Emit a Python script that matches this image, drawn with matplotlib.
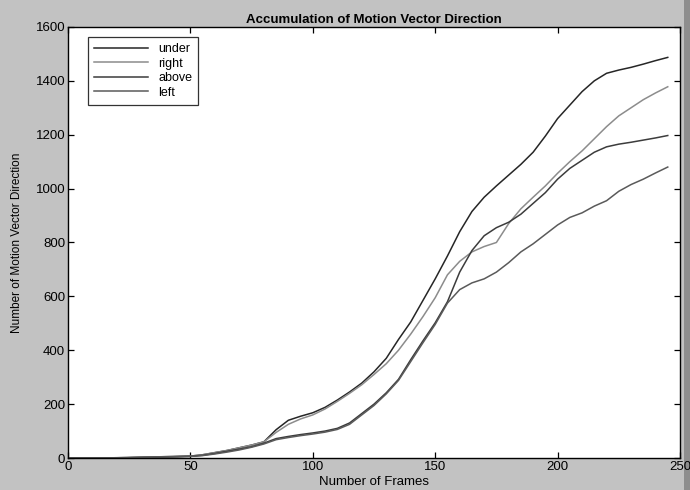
import matplotlib
matplotlib.use("Agg")
import matplotlib.pyplot as plt
from matplotlib.patches import Rectangle

frames = [0, 10, 20, 30, 40, 50, 55, 60, 65, 70, 75, 80, 85, 90, 95, 100, 105, 110,
          115, 120, 125, 130, 135, 140, 145, 150, 155, 160, 165, 170, 175, 180, 185,
          190, 195, 200, 205, 210, 215, 220, 225, 230, 235, 240, 245]

under = [0, 0, 1, 3, 5, 7, 12, 20, 28, 38, 48, 60, 105, 140, 155, 168, 188, 215,
         245, 278, 320, 370, 440, 505, 585, 665, 750, 840, 915, 968, 1010, 1050, 1090,
         1135, 1195, 1260, 1310, 1360, 1400, 1428, 1440, 1450, 1462, 1475, 1487]

right = [0, 0, 1, 3, 5, 7, 12, 20, 28, 38, 48, 60, 95, 125, 145, 160, 182, 210,
         240, 272, 310, 350, 400, 460, 525, 595, 680, 730, 765, 785, 800, 870, 925,
         968, 1010, 1057, 1100, 1140, 1185, 1230, 1270, 1300, 1330, 1355, 1378]

above = [0, 0, 0, 2, 4, 6, 10, 17, 25, 33, 42, 55, 72, 80, 87, 93, 100, 110,
         130, 165, 200, 242, 292, 365, 435, 502, 580, 690, 770, 825, 855, 875, 905,
         945, 985, 1035, 1075, 1105, 1135, 1155, 1165, 1172, 1180, 1188, 1197]

left = [0, 0, 0, 2, 4, 6, 9, 15, 22, 30, 40, 52, 68, 76, 83, 89, 96, 106,
        125, 160, 195, 238, 288, 358, 428, 496, 575, 625, 650, 665, 690, 725, 765,
        795, 830, 865, 893, 910, 935, 955, 990, 1015, 1035, 1058, 1080]

series = [("under", under, "#262626"), ("right", right, "#8c8c8c"),
          ("above", above, "#3c3c3c"), ("left", left, "#5a5a5a")]

x_ticks = [0, 50, 100, 150, 200, 250]
y_ticks = [0, 200, 400, 600, 800, 1000, 1200, 1400, 1600]

plt.rcParams['font.family'] = ['Liberation Sans', 'DejaVu Sans']

fig = plt.figure(figsize=(6.9, 4.9), dpi=100, facecolor="#c2c2c2")
fig.patches.append(Rectangle((0.991, 0), 0.009, 1, transform=fig.transFigure,
                             facecolor="#8e8e8e", edgecolor="none", zorder=-5))
ax = fig.add_axes([0.0986, 0.0653, 0.8869, 0.8797])
ax.set_facecolor("white")

for name, vals, col in series:
    ax.plot(frames, vals, color=col, lw=1.1, label=name)

ax.set_xlim(0, 250)
ax.set_ylim(0, 1600)
ax.set_xticks(x_ticks)
ax.set_yticks(y_ticks)
ax.tick_params(direction="in", top=True, right=True, labelsize=9.5, length=4,
               width=0.9, pad=2)
for sp in ax.spines.values():
    sp.set_linewidth(1.0)

ax.set_title("Accumulation of Motion Vector Direction", fontsize=9.5, fontweight="bold",
             pad=3)
ax.set_xlabel("Number of Frames", fontsize=9.5, labelpad=2.5)
ax.set_ylabel("Number of Motion Vector Direction", fontsize=8.5, labelpad=9)

leg = ax.legend(loc="upper left", bbox_to_anchor=(0.033, 0.977), fontsize=9,
                handlelength=4.3, frameon=True, fancybox=False, borderpad=0.5,
                labelspacing=0.2, handletextpad=0.8, borderaxespad=0)
leg.get_frame().set_edgecolor("black")
leg.get_frame().set_linewidth(0.9)

fig.savefig("out.png", dpi=100, facecolor=fig.get_facecolor())
